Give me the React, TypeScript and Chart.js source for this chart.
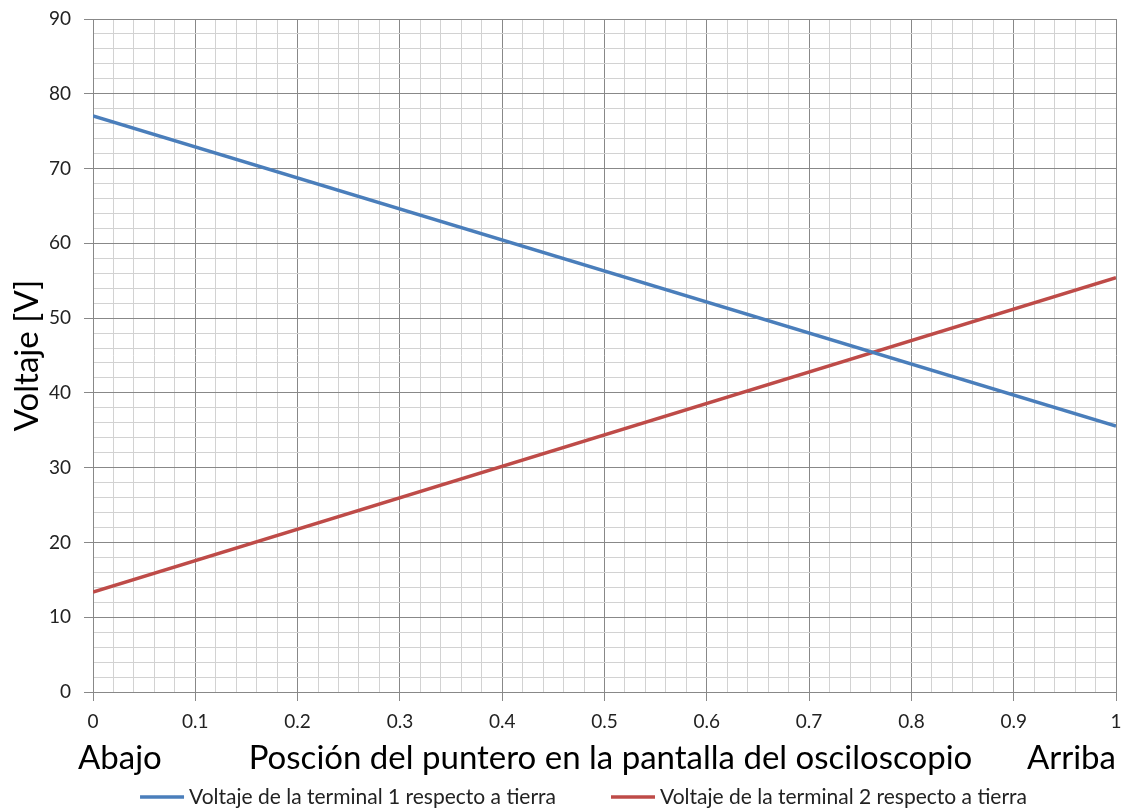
import React, { useEffect, useRef } from "react";
import { Chart, registerables } from "chart.js";

Chart.register(...registerables);

const xPositions = [0, 1];
const terminal1 = [77.03, 35.57];
const terminal2 = [13.37, 55.4];
const seriesNames = [
  "Voltaje de la terminal 1 respecto a tierra",
  "Voltaje de la terminal 2 respecto a tierra",
];
const seriesColors = ["#4a7ebb", "#be4b48"];
const xTitleLeft = "Abajo";
const xTitleMiddle = "Posción del puntero en la pantalla del osciloscopio";
const xTitleRight = "Arriba";
const yTitle = "Voltaje [V]";

const FONT = "Lato, 'Open Sans', sans-serif";
const MAJOR = "#888888";
const MINOR = "#d2d2d2";

const xTitlePlugin = {
  id: "xTitlePlugin",
  afterDraw(chart: any) {
    const { ctx, chartArea, scales } = chart;
    const x = scales.x;
    const y = chartArea.bottom + 66;
    ctx.save();
    ctx.font = `33px ${FONT}`;
    ctx.fillStyle = "#000";
    ctx.textBaseline = "middle";
    ctx.textAlign = "left";
    ctx.fillText(xTitleLeft, x.getPixelForValue(0) - 15, y);
    ctx.textAlign = "center";
    ctx.fillText(xTitleMiddle, (chartArea.left + chartArea.right) / 2 + 6, y);
    ctx.textAlign = "right";
    ctx.fillText(xTitleRight, x.getPixelForValue(1), y);
    ctx.restore();
  },
};

const legendPlugin = {
  id: "bottomLegend",
  afterDraw(chart: any) {
    const { ctx, chartArea } = chart;
    const y = chartArea.bottom + 105;
    ctx.save();
    ctx.font = `21px ${FONT}`;
    ctx.textBaseline = "middle";
    ctx.textAlign = "left";
    const lineW = 44;
    const textGap = 5;
    const itemGap = 55;
    const widths = chart.data.datasets.map((d: any) => lineW + textGap + ctx.measureText(d.label).width);
    const total = widths.reduce((a: number, b: number) => a + b, 0) + itemGap * (widths.length - 1);
    let x = (chartArea.left + chartArea.right) / 2 - 21 - total / 2;
    chart.data.datasets.forEach((d: any, i: number) => {
      ctx.strokeStyle = d.borderColor;
      ctx.lineWidth = 3.5;
      ctx.beginPath();
      ctx.moveTo(x, y);
      ctx.lineTo(x + lineW, y);
      ctx.stroke();
      ctx.fillStyle = "#222";
      ctx.fillText(d.label, x + lineW + textGap, y);
      x += widths[i] + itemGap;
    });
    ctx.restore();
  },
};

const isMajor = (v: number, step: number) => Math.abs(v / step - Math.round(v / step)) < 1e-6;

export default function App() {
  const ref = useRef<HTMLCanvasElement>(null);
  useEffect(() => {
    document.body.style.margin = "0";
    const data1 = xPositions.map((x, i) => ({ x, y: terminal1[i] }));
    const data2 = xPositions.map((x, i) => ({ x, y: terminal2[i] }));
    const chart = new Chart(ref.current!, {
      type: "line",
      data: {
        datasets: [
          {
            label: seriesNames[0],
            data: data1,
            borderColor: seriesColors[0],
            backgroundColor: seriesColors[0],
            borderWidth: 3.5,
            pointRadius: 0,
            tension: 0,
          },
          {
            label: seriesNames[1],
            data: data2,
            borderColor: seriesColors[1],
            backgroundColor: seriesColors[1],
            borderWidth: 3.5,
            pointRadius: 0,
            tension: 0,
          },
        ],
      },
      options: {
        animation: false,
        responsive: false,
        devicePixelRatio: 1,
        layout: { padding: { top: 19, right: 7, left: 0, bottom: 32 } },
        plugins: {
          legend: { display: false },
          tooltip: { enabled: false },
        },
        scales: {
          x: {
            type: "linear",
            min: 0,
            max: 1,
            afterFit(scale: any) {
              scale.height = 84;
              scale.paddingLeft = 0;
              scale.paddingRight = 0;
            },
            ticks: {
              stepSize: 0.02,
              autoSkip: false,
              maxRotation: 0,
              padding: 9,
              color: "#222",
              font: { family: FONT, size: 19 },
              callback: (v: any) => (isMajor(Number(v), 0.1) ? String(Math.round(Number(v) * 10) / 10) : ""),
            },
            grid: {
              color: (c: any) => (isMajor(c.tick.value, 0.1) ? MAJOR : MINOR),
              tickColor: (c: any) => (isMajor(c.tick.value, 0.1) ? MAJOR : "rgba(0,0,0,0)"),
              tickLength: 9,
              lineWidth: 1,
            },
            border: { color: MAJOR },
          },
          y: {
            type: "linear",
            min: 0,
            max: 90,
            afterFit(scale: any) {
              scale.width = 93;
              scale.paddingTop = 0;
              scale.paddingBottom = 0;
            },
            ticks: {
              stepSize: 2,
              autoSkip: false,
              padding: 13,
              color: "#222",
              font: { family: FONT, size: 19 },
              callback: (v: any) => (isMajor(Number(v), 10) ? String(v) : ""),
            },
            grid: {
              color: (c: any) => (isMajor(c.tick.value, 10) ? MAJOR : MINOR),
              tickColor: (c: any) => (isMajor(c.tick.value, 10) ? MAJOR : "rgba(0,0,0,0)"),
              tickLength: 9,
              lineWidth: 1,
            },
            border: { color: MAJOR },
            title: {
              display: true,
              text: yTitle,
              color: "#000",
              font: { family: FONT, size: 33 },
              padding: { top: 8, bottom: 0 },
            },
          },
        },
      },
      plugins: [xTitlePlugin, legendPlugin],
    });
    return () => chart.destroy();
  }, []);
  return (
    <div style={{ width: 1123, height: 808, background: "#fff" }}>
      <canvas ref={ref} width={1123} height={808} />
    </div>
  );
}
